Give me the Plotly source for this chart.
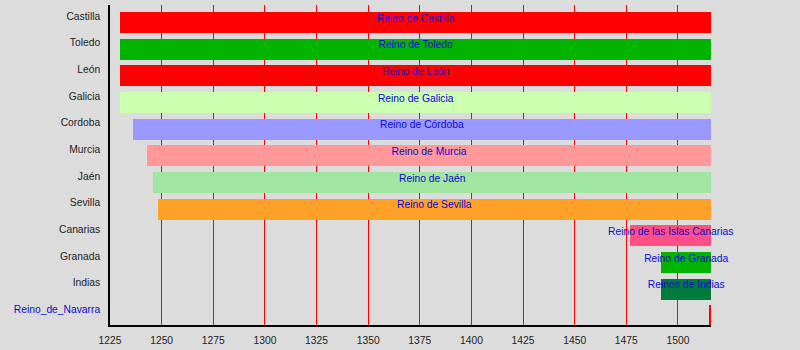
import plotly.graph_objects as go

rows = ["Castilla", "Toledo", "León", "Galicia", "Cordoba", "Murcia", "Jaén",
        "Sevilla", "Canarias", "Granada", "Indias", "Reino_de_Navarra"]
starts = [1230, 1230, 1230, 1230, 1236, 1243, 1246, 1248, 1477, 1492, 1492, 1515]
ends = [1516, 1516, 1516, 1516, 1516, 1516, 1516, 1516, 1516, 1516, 1516, 1516]
labels = ["Reino de Castilla", "Reino de Toledo", "Reino de León", "Reino de Galicia",
          "Reino de Córdoba", "Reino de Murcia", "Reino de Jaén", "Reino de Sevilla",
          "Reino de las Islas Canarias", "Reino de Granada", "Reinos de Indias", ""]
colors = ["#ff0000", "#00b400", "#ff0000", "#ccffb0", "#9999ff", "#ff9999", "#a0e6a0",
          "#ffa028", "#ff4f85", "#00b400", "#007a3d", "#ff0000"]
x_ticks = [1225, 1250, 1275, 1300, 1325, 1350, 1375, 1400, 1425, 1450, 1475, 1500]
link_rows = ["Reino_de_Navarra"]

pos = list(range(len(rows)))
BG = "#dcdcdc"
BLUE = "#0a0acc"

fig = go.Figure()
fig.add_trace(go.Bar(
    orientation="h",
    y=pos,
    base=starts,
    x=[e - s for s, e in zip(starts, ends)],
    marker=dict(color=colors, line=dict(width=0)),
    width=0.79,
    offset=-0.24,
    hoverinfo="skip",
    showlegend=False,
))
mids = [(s + e) / 2 for s, e in zip(starts, ends)]
fig.add_trace(go.Scatter(
    x=mids, y=[p + 0.03 for p in pos], text=labels, mode="text",
    textposition="middle center",
    textfont=dict(family="Liberation Sans, Arial, sans-serif", size=10.3, color=BLUE),
    cliponaxis=False, hoverinfo="skip", showlegend=False,
))

ticktext = [f'<span style="color:{BLUE}">{r}</span>' if r in link_rows else r for r in rows]

fig.update_layout(
    width=800, height=350,
    margin=dict(l=110, r=89, t=5, b=25),
    paper_bgcolor=BG, plot_bgcolor=BG,
    font=dict(family="Liberation Sans, Arial, sans-serif", size=10, color="#222222"),
    bargap=0,
    xaxis=dict(
        range=[1225, 1516], tickvals=x_ticks, ticks="",
        showgrid=True, gridcolor="#ff0000", gridwidth=1,
        showline=True, linecolor="#000000", linewidth=1.5,
        zeroline=False, fixedrange=True, ticklabelstandoff=5,
        tickfont=dict(size=10.3, color="#222222"),
    ),
    yaxis=dict(
        range=[len(rows) - 0.5, -0.5], tickvals=[p - 0.08 for p in pos], ticktext=ticktext,
        ticks="", showgrid=False, showline=True, linecolor="#000000", linewidth=1.5,
        zeroline=False, ticklabelstandoff=6, fixedrange=True,
        tickfont=dict(size=10.3, color="#222222"),
    ),
)

fig.write_html("out.html", config={"displayModeBar": False})
